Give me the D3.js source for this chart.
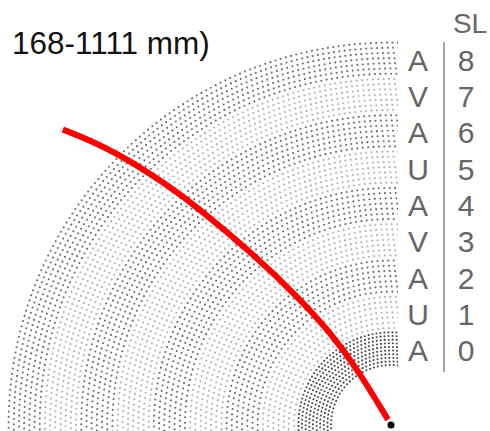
<!DOCTYPE html>
<html>
<head>
<meta charset="utf-8">
<script src="https://cdn.jsdelivr.net/npm/d3@7"></script>
<style>
  body { margin: 0; background: #fff; }
  svg { display: block; font-family: "Liberation Sans", Arial, sans-serif; }
</style>
</head>
<body>
<div id="chart"></div>
<script>
// Levels (SL) from centre outwards and their letters
const slLevels = [0, 1, 2, 3, 4, 5, 6, 7, 8]
const bandLetters = ["A", "U", "A", "V", "A", "U", "A", "V", "A"]

// Red trace: angle (deg, from vertical) and SL position
const traceAngle = [-29.5, -31.0, -33.3, -35.9, -38.9, -41.5, -43.0, -44.5, -46.1, -48.0]
const traceSL = [-1.43, 0.25, 1.44, 2.71, 4.46, 6.32, 7.44, 8.52, 9.56, 10.56]

const titleText = "168-1111 mm)"

const width = 490, height = 431
const cx = 391, cy = 425

const svg = d3.select("#chart").append("svg")
    .attr("width", width)
    .attr("height", height)

// radius scale in SL units
const rScale = d3.scaleLinear().domain([-1.6, 9]).range([0, 385])

const g = svg.append("g").attr("transform", `translate(${cx},${cy})`)
g.append("clipPath").attr("id", "clipLocal")
    .append("rect").attr("x", -cx).attr("y", -cy).attr("width", 398).attr("height", height)
const dotsG = g.append("g").attr("clip-path", "url(#clipLocal)")

// build dots for every band
let dots = []
slLevels.forEach(function (sl, i) {
    const rows = i == 0 ? 10 : 7
    const shade = i == 0 ? "#4a4a4a" : (bandLetters[i] == "A" ? "#6c6c6c" : "#b0b0b0")
    for (let j = 0; j < rows; j++) {
        const r = rScale(sl + (j + 0.5) / rows)
        const spacing = i == 0 ? 4 : 5.4
        const step = spacing / r
        const off = (j % 2) * step / 2
        for (let a = -Math.PI / 2 - 0.12 + off; a < 0.12; a += step) {
            dots.push({ x: Math.sin(a) * r, y: -Math.cos(a) * r, c: shade })
        }
    }
})

dotsG.selectAll("circle").data(dots).join("circle")
    .attr("cx", d => d.x)
    .attr("cy", d => d.y)
    .attr("r", 1.05)
    .style("fill", d => d.c)

// red trace
const traceData = traceAngle.map((a, i) => [a * Math.PI / 180, rScale(traceSL[i])])
g.append("path")
    .datum(traceData)
    .attr("d", d3.lineRadial().curve(d3.curveBasis))
    .style("fill", "none")
    .style("stroke", "#ff0000")
    .style("stroke-width", 6)

// centre point
g.append("circle").attr("cx", 0).attr("cy", 0).attr("r", 3.5).style("fill", "#000")

// right labels
const labels = svg.append("g")
labels.selectAll(".letter").data(slLevels).join("text")
    .attr("class", "letter")
    .attr("x", 418)
    .attr("y", d => cy - rScale(d + 0.5) + 2)
    .attr("text-anchor", "middle")
    .attr("dominant-baseline", "central")
    .style("font-size", "30px")
    .style("fill", "#666")
    .text((d, i) => bandLetters[i])

labels.selectAll(".num").data(slLevels).join("text")
    .attr("class", "num")
    .attr("x", 466)
    .attr("y", d => cy - rScale(d + 0.5) + 2)
    .attr("text-anchor", "middle")
    .attr("dominant-baseline", "central")
    .style("font-size", "30px")
    .style("fill", "#666")
    .text(d => d)

labels.append("line")
    .attr("x1", 444).attr("x2", 444)
    .attr("y1", cy - rScale(9) + 2).attr("y2", cy - rScale(0) + 5)
    .style("stroke", "#888")
    .style("stroke-width", 1.5)

labels.append("text")
    .attr("x", 470).attr("y", 33)
    .attr("text-anchor", "middle")
    .style("font-size", "28px")
    .style("fill", "#666")
    .text("SL")

// title (cut off on the left)
svg.append("text")
    .attr("x", 12).attr("y", 54)
    .style("font-size", "31.5px")
    .style("fill", "#111")
    .text(titleText)
</script>
</body>
</html>
